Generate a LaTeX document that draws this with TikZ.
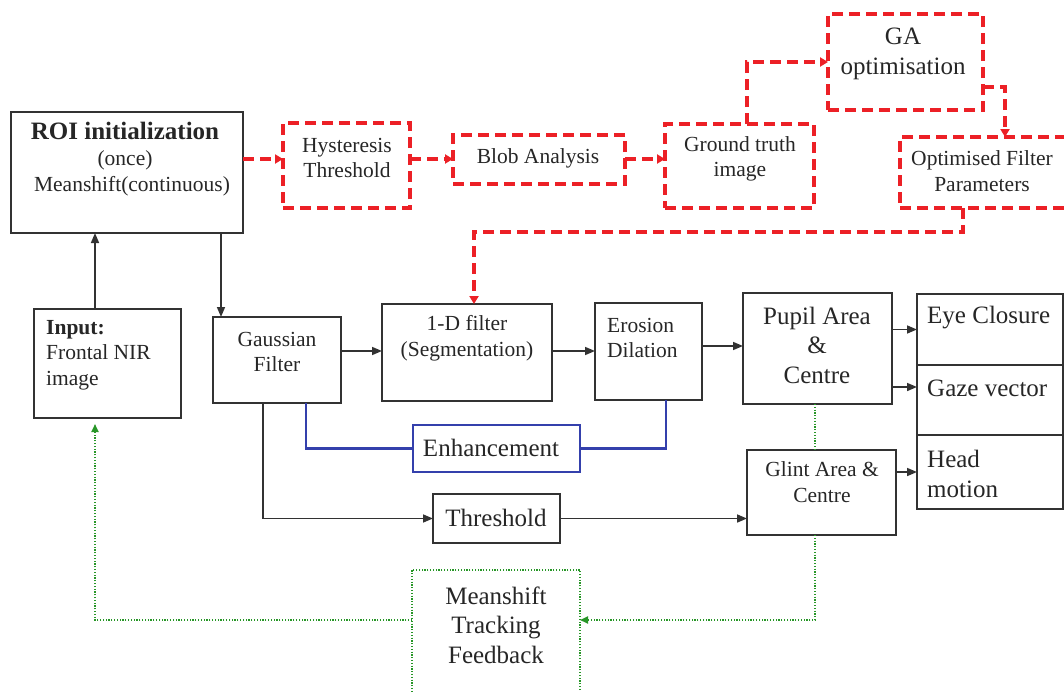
\documentclass[tikz,border=0pt]{standalone}
\usepackage{fontspec}
\setmainfont{Liberation Serif}
\usetikzlibrary{arrows.meta}
\definecolor{myred}{RGB}{236,32,38}
\definecolor{myblue}{RGB}{52,64,172}
\definecolor{mygreen}{RGB}{40,150,40}
\definecolor{boxgray}{RGB}{50,50,50}
\begin{document}
\begin{tikzpicture}[x=1pt,y=-1pt,
  box/.style={draw=boxgray, line width=1.8pt, inner sep=0pt, outer sep=0pt},
  redbox/.style={draw=myred, line width=3.2pt, dash pattern=on 11pt off 6pt, inner sep=0pt, outer sep=0pt},
  bluebox/.style={draw=myblue, line width=2.2pt, inner sep=0pt, outer sep=0pt},
  greenbox/.style={draw=mygreen, line width=1.8pt, dash pattern=on 1.2pt off 1.6pt, inner sep=0pt, outer sep=0pt},
  txt/.style={font=\fontsize{21.5}{25.5}\selectfont, align=center, inner sep=0pt, text=black!85},
  bigtxt/.style={font=\fontsize{25}{29.5}\selectfont, align=center, inner sep=0pt, text=black!85},
  arr/.style={draw=boxgray, line width=1.6pt, -{Triangle[length=10pt,width=8pt]}},
  redarr/.style={draw=myred, line width=3.2pt, dash pattern=on 11pt off 6pt, -{Triangle[length=8pt,width=9pt]}},
  blueline/.style={draw=myblue, line width=2.2pt},
  greenline/.style={draw=mygreen, line width=1.8pt, dash pattern=on 1.2pt off 1.6pt},
  greenarr/.style={draw=mygreen, line width=1.8pt, dash pattern=on 1.2pt off 1.6pt, -{Triangle[length=8pt,width=7pt]}}
]
\useasboundingbox (0,0) rectangle (1064,691);

% boxes
\node[box, minimum width=232, minimum height=121] (roi) at (127,172.5) {};
\node[redbox, minimum width=127, minimum height=85] (hyst) at (346.5,165.5) {};
\node[redbox, minimum width=172, minimum height=49] (blob) at (539,159.5) {};
\node[redbox, minimum width=149, minimum height=84] (gt) at (739.5,166) {};
\node[redbox, minimum width=155, minimum height=96] (ga) at (905.5,62) {};
\node[redbox, minimum width=175, minimum height=71] (opt) at (987.5,172.5) {};
\node[box, minimum width=147, minimum height=109] (input) at (107.5,363.5) {};
\node[box, minimum width=128, minimum height=86] (gauss) at (277,360) {};
\node[box, minimum width=170, minimum height=97] (filt) at (467,352.5) {};
\node[box, minimum width=107, minimum height=97] (eros) at (648.5,351.5) {};
\node[box, minimum width=149, minimum height=111] (pupil) at (817.5,348.5) {};
\node[box, minimum width=146, minimum height=71] (eye) at (990,329.5) {};
\node[box, minimum width=146, minimum height=70] (gaze) at (990,400) {};
\node[box, minimum width=146, minimum height=74] (head) at (990,472) {};
\node[box, minimum width=149, minimum height=85] (glint) at (821.5,492.5) {};
\node[bluebox, minimum width=167, minimum height=47] (enh) at (496.5,448.5) {};
\node[box, minimum width=127, minimum height=49] (thr) at (496.5,518.5) {};
\node[greenbox, minimum width=168, minimum height=134] (ms) at (496,637) {};

% texts
\node[txt] (roit) at (125,159) {{\fontsize{25}{29}\selectfont\bfseries ROI initialization}\\[1pt](once)\\\hspace*{14pt}Meanshift(continuous)};
\node[txt] (hystt) at (347,158) {Hysteresis\\Threshold};
\node[txt] (blobt) at (538,158) {Blob Analysis};
\node[txt] (gtt) at (740,159) {Ground truth\\image};
\node[bigtxt] (gat) at (903,54) {GA\\optimisation};
\node[txt] (optt) at (982,171) {Optimised Filter\\Parameters};
\node[txt, align=left, anchor=west] (inputt) at (46,355) {\textbf{Input:}\\Frontal NIR\\image};
\node[txt] (gausst) at (277,352) {Gaussian\\Filter};
\node[txt] (filtt) at (467,338) {1-D filter\\(Segmentation)};
\node[txt, align=left, anchor=west] (erost) at (607,338) {Erosion\\Dilation};
\node[bigtxt] (pupilt) at (817,345) {Pupil Area\\\&\\Centre};
\node[bigtxt, anchor=west] (eyet) at (927,318) {Eye Closure};
\node[bigtxt, anchor=west] (gazet) at (927,388) {Gaze vector};
\node[bigtxt, align=left, anchor=west] (headt) at (927,474) {Head\\motion};
\node[txt] (glintt) at (822,482) {Glint Area \&\\Centre};
\node[bigtxt] (enht) at (491,448) {Enhancement};
\node[bigtxt] (thrt) at (496,518) {Threshold};
\node[bigtxt] (mst) at (496,625) {Meanshift\\Tracking\\Feedback};

% helper coordinates
\coordinate (xa) at (95,0);
\coordinate (xb) at (221,0);
\coordinate (xc) at (263,0);
\coordinate (xd) at (306,0);
\coordinate (xe) at (666,0);
\coordinate (xf) at (815,0);
\coordinate (xg) at (747,0);
\coordinate (xh) at (1005,0);
\coordinate (xi) at (963,0);
\coordinate (xj) at (474,0);
\coordinate (ya) at (0,159);
\coordinate (yb) at (0,351);
\coordinate (yc) at (0,346);
\coordinate (yd) at (0,387);
\coordinate (yg) at (0,620);
\coordinate (yr2) at (0,87);
\coordinate (yr3) at (0,232);

% black connectors
\draw[arr] (xa |- input.north) -- (xa |- roi.south);
\draw[arr] (xb |- roi.south) -- (xb |- gauss.north);
\draw[arr] (gauss.east |- yb) -- (filt.west |- yb);
\draw[arr] (filt.east |- yb) -- (eros.west |- yb);
\draw[arr] (eros.east |- yc) -- (pupil.west |- yc);
\draw[arr] (pupil.east |- eye.west) -- (eye.west);
\draw[arr] (pupil.east |- yd) -- (gaze.west |- yd);
\draw[arr] (glint.east |- head.west) -- (head.west);
\draw[arr] (xc |- gauss.south) -- (xc |- thr.west) -- (thr.west);
\draw[arr] (thr.east) -- (glint.west |- thr.east);

% blue connectors
\draw[blueline] (xd |- gauss.south) -- (xd |- enh.west) -- (enh.west);
\draw[blueline] (enh.east) -- (xe |- enh.east) -- (xe |- eros.south);

% green connectors
\draw[greenline] (xf |- pupil.south) -- (xf |- glint.north);
\draw[greenarr] (xf |- glint.south) -- (xf |- yg) -- (ms.east |- yg);
\draw[greenarr, shorten >=6pt] (ms.west |- yg) -- (xa |- yg) -- (xa |- input.south);

% red connectors
\draw[redarr] (roi.east |- ya) -- (hyst.west |- ya);
\draw[redarr] (hyst.east |- ya) -- (blob.west |- ya);
\draw[redarr] (blob.east |- ya) -- (gt.west |- ya);
\draw[redarr] (xg |- gt.north) -- (xg |- ga.west) -- (ga.west);
\draw[redarr] (ga.east |- yr2) -- (xh |- yr2) -- (xh |- opt.north);
\draw[redarr] (xi |- opt.south) -- (xi |- yr3) -- (xj |- yr3) -- (xj |- filt.north);
\end{tikzpicture}
\end{document}
